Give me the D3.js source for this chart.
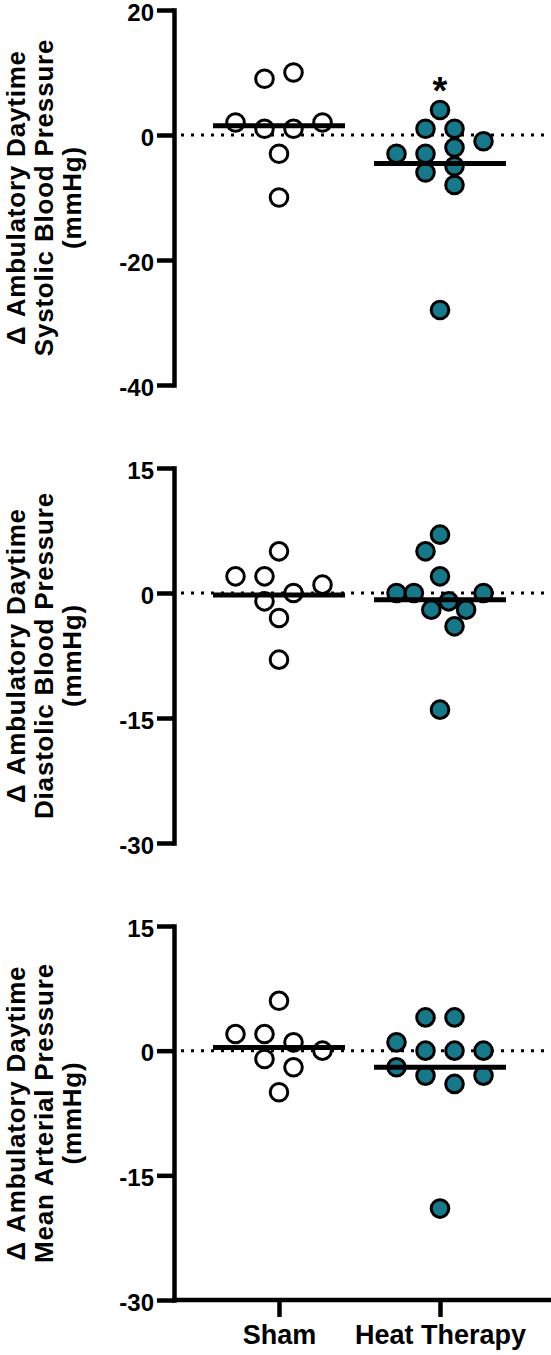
<!DOCTYPE html>
<html>
<head>
<meta charset="UTF-8">
<style>
  body { margin: 0; background: #fff; }
  svg { display: block; }
  text { font-family: 'Liberation Sans', Arial, sans-serif; font-weight: bold; fill: #000; }
  .title { font-size: 26px; letter-spacing: 0.8px; }
  .zero { stroke: #000; stroke-width: 3; stroke-dasharray: 3 7; }
</style>
</head>
<body>
<script src="https://cdn.jsdelivr.net/npm/d3@7"></script>
<script>
  // values, one entry per subject
  let groups = ["Sham", "Heat Therapy"];

  let sbpSham = [9, 10, 2, 1, 1, 2, -3, -10];
  let sbpHeat = [4, 1, 1, -3, -3, -2, -1, -6, -5, -8, -28];
  let dbpSham = [5, 2, 2, 0, 1, -1, -3, -8];
  let dbpHeat = [7, 5, 2, 0, 0, -2, -1, -2, 0, -4, -14];
  let mapSham = [6, 2, 2, 1, 0, -1, -2, -5];
  let mapHeat = [4, 4, 1, 0, 0, 0, -2, -3, -4, -3, -19];

  let sbpTicks = [20, 0, -20, -40];
  let dbpTicks = [15, 0, -15, -30];
  let mapTicks = [15, 0, -15, -30];

  let width = 551, height = 1355;
  let axisX = 174, rightX = 551;
  let teal = "#17788a";
  let r = 8.8;

  let svg = d3.select("body").append("svg")
    .attr("width", width)
    .attr("height", height);

  let x = d3.scalePoint().domain(groups).range([279, 440]);

  let panels = [
    { sham: sbpSham, heat: sbpHeat, ticks: sbpTicks, top: 10, bottom: 385,
      title: ["\u0394 Ambulatory Daytime", "Systolic Blood Pressure", "(mmHg)"], star: true },
    { sham: dbpSham, heat: dbpHeat, ticks: dbpTicks, top: 468, bottom: 843,
      title: ["\u0394 Ambulatory Daytime", "Diastolic Blood Pressure", "(mmHg)"] },
    { sham: mapSham, heat: mapHeat, ticks: mapTicks, top: 926, bottom: 1300,
      title: ["\u0394 Ambulatory Daytime", "Mean Arterial Pressure", "(mmHg)"], xAxis: true }
  ];

  // prism-like scatter spread: rows of close values, centred, shifted by half steps on overlap
  function spread(values, y) {
    let step = 29, half = 14.5, sy = 18;
    let order = d3.range(values.length).sort((a, b) => d3.descending(values[a], values[b]) || a - b);
    let rows = [];
    order.forEach(i => {
      let row = rows[rows.length - 1];
      if (row) {
        let prev = row[row.length - 1], first = row[0];
        if (y(values[i]) - y(values[prev]) < 12 && y(values[i]) - y(values[first]) < 17.5) {
          row.push(i);
          return;
        }
      }
      rows.push([i]);
    });
    let off = new Array(values.length).fill(0);
    let placed = [];
    rows.forEach(row => {
      row.sort((a, b) => a - b);
      let n = row.length;
      let s = n > 4 ? (step * 3) / (n - 1) : step;
      let base = row.map((i, k) => (k - (n - 1) / 2) * s);
      let shifts = [0, -half, half, -step, step, -3 * half, 3 * half];
      let shift = shifts.find(sh => row.every((i, k) => placed.every(p => {
        let dx = (base[k] + sh - p.dx) / step, dy = (y(values[i]) - p.y) / sy;
        return dx * dx + dy * dy >= 1;
      })));
      if (shift === undefined) shift = 0;
      row.forEach((i, k) => {
        off[i] = base[k] + shift;
        placed.push({ dx: off[i], y: y(values[i]) });
      });
    });
    return values.map((v, i) => ({ v: v, dx: off[i] }));
  }

  panels.forEach(p => {
    let y = d3.scaleLinear()
      .domain([p.ticks[p.ticks.length - 1], p.ticks[0]])
      .range([p.bottom, p.top]);

    let g = svg.append("g");

    // y title
    let cy = (p.top + p.bottom) / 2;
    [25, 53, 81].forEach((tx, k) => {
      g.append("text")
        .attr("class", "title")
        .attr("transform", "translate(" + tx + "," + cy + ") rotate(-90)")
        .attr("text-anchor", "middle")
        .text(p.title[k]);
    });

    // dotted zero line
    g.append("line")
      .attr("class", "zero")
      .attr("x1", axisX + 7).attr("x2", rightX)
      .attr("y1", y(0)).attr("y2", y(0));

    // y axis
    let ax = g.append("g")
      .attr("transform", "translate(" + axisX + ",0)")
      .call(d3.axisLeft(y).tickValues(p.ticks).tickSize(17).tickSizeOuter(0).tickPadding(3)
        .tickFormat(d => String(d)));
    ax.attr("font-family", null).attr("font-size", null);
    ax.select(".domain").attr("stroke", "#000").attr("stroke-width", 4.5).attr("stroke-linecap", "square");
    ax.selectAll(".tick line").attr("stroke", "#000").attr("stroke-width", 4.5);
    ax.selectAll(".tick text").style("font-size", "24px").attr("fill", "#000").attr("dy", "0.43em");

    // points
    [["Sham", p.sham, "#fff"], ["Heat Therapy", p.heat, teal]].forEach(([grp, vals, fill]) => {
      let pts = spread(vals, y);
      g.append("g").selectAll("circle")
        .data(pts)
        .enter()
        .append("circle")
        .attr("cx", d => x(grp) + d.dx)
        .attr("cy", d => y(d.v))
        .attr("r", r)
        .attr("fill", fill)
        .attr("stroke", "#000")
        .attr("stroke-width", 3);

      // mean line
      let m = d3.mean(vals);
      g.append("line")
        .attr("x1", x(grp) - 66).attr("x2", x(grp) + 66)
        .attr("y1", y(m)).attr("y2", y(m))
        .attr("stroke", "#000")
        .attr("stroke-width", 5);

      if (p.star && grp === "Heat Therapy") {
        g.append("text")
          .attr("x", x(grp))
          .attr("y", y(d3.max(vals)) - 6)
          .attr("text-anchor", "middle")
          .style("font-size", "38px")
          .text("*");
      }
    });

    // x axis on the last panel
    if (p.xAxis) {
      let xa = g.append("g")
        .attr("transform", "translate(0," + p.bottom + ")")
        .call(d3.axisBottom(x).tickSize(17).tickPadding(8));
      xa.attr("font-family", null).attr("font-size", null);
      xa.select(".domain").remove();
      xa.selectAll(".tick line").attr("stroke", "#000").attr("stroke-width", 4.5);
      xa.selectAll(".tick text").style("font-size", "27px").attr("fill", "#000");
      xa.append("line")
        .attr("x1", axisX - 2).attr("x2", rightX)
        .attr("stroke", "#000")
        .attr("stroke-width", 4.5);
    }
  });
</script>
</body>
</html>
